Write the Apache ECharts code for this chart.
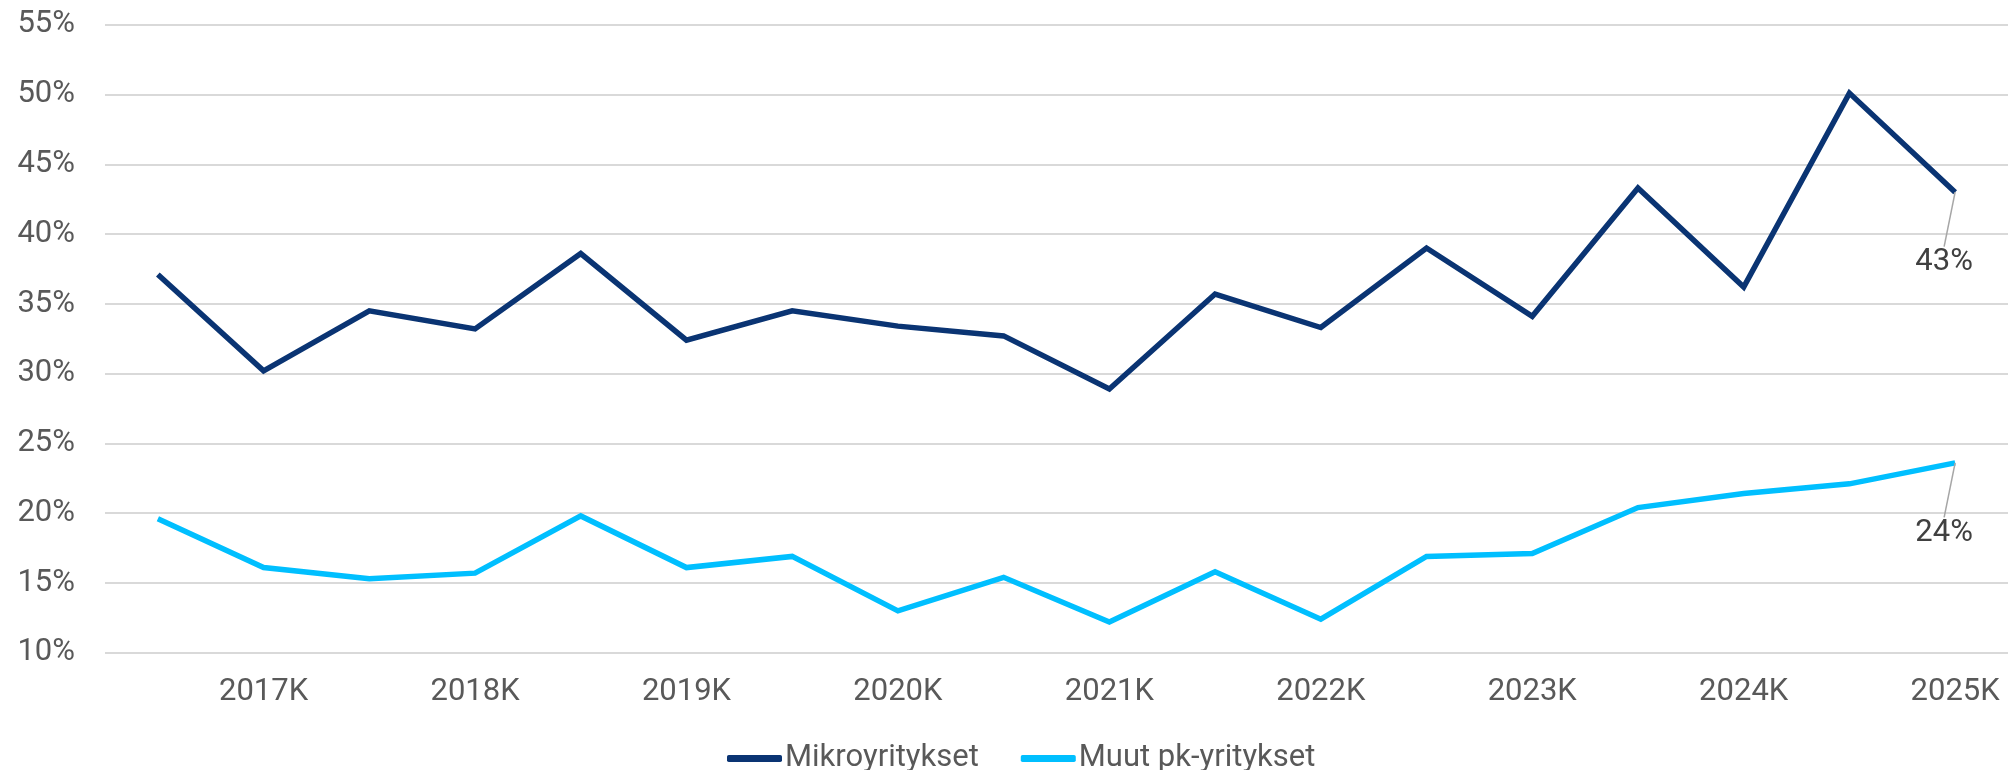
<!DOCTYPE html>
<html>
<head>
<meta charset="utf-8">
<script src="https://cdn.jsdelivr.net/npm/echarts@6/dist/echarts.min.js"></script>
<style>
html,body{margin:0;padding:0;background:#fff;}
#c{width:2014px;height:770px;}
</style>
</head>
<body>
<div id="c"></div>
<script>
const categories = ['2016S','2017K','2017S','2018K','2018S','2019K','2019S','2020K','2020S','2021K','2021S','2022K','2022S','2023K','2023S','2024K','2024S','2025K'];
const mikroyritykset = [37.1, 30.2, 34.5, 33.2, 38.6, 32.4, 34.5, 33.4, 32.7, 28.9, 35.7, 33.3, 39.0, 34.1, 43.3, 36.2, 50.1, 43.0];
const muutPk = [19.6, 16.1, 15.3, 15.7, 19.8, 16.1, 16.9, 13.0, 15.4, 12.2, 15.8, 12.4, 16.9, 17.1, 20.4, 21.4, 22.1, 23.6];
const seriesNames = ['Mikroyritykset', 'Muut pk-yritykset'];
const yMin = 10, yMax = 55, yStep = 5;

const FONT = 'Roboto';
const lastIdx = categories.length - 1;

function withEndLabel(arr) {
  return arr.map((v, i) => i === lastIdx ? {
    value: v,
    label: { show: true, position: 'inside', formatter: (p) => Math.round(p.value) + '%',
      fontFamily: FONT, fontSize: 31, color: '#404040' },
    labelLine: { show: true, lineStyle: { color: '#a6a6a6', width: 1.5 } }
  } : v);
}

const chart = echarts.init(document.getElementById('c'), null, {renderer: 'canvas'});
chart.setOption({
  animation: false,
  backgroundColor: '#ffffff',
  grid: { left: 105, right: 6, top: 24.7, bottom: 117.3, containLabel: false },
  legend: {
    left: 722, top: 738,
    icon: 'roundRect',
    itemWidth: 55, itemHeight: 7, itemGap: 42,
    textStyle: { fontFamily: FONT, fontSize: 31, color: '#595959', padding: [0,0,0,-2] },
    data: seriesNames
  },
  xAxis: {
    type: 'category',
    data: categories,
    boundaryGap: true,
    axisLine: { show: false },
    axisTick: { show: false },
    splitLine: { show: false },
    axisLabel: {
      interval: (i) => i % 2 === 1,
      margin: 24,
      fontFamily: FONT, fontSize: 31, color: '#595959'
    }
  },
  yAxis: {
    type: 'value',
    min: yMin, max: yMax, interval: yStep,
    axisLine: { show: false },
    axisTick: { show: false },
    splitLine: { show: true, lineStyle: { color: '#d9d9d9', width: 2 } },
    axisLabel: {
      margin: 30,
      formatter: (v) => v + '%',
      fontFamily: FONT, fontSize: 31, color: '#595959'
    }
  },
  series: [
    {
      name: seriesNames[0], type: 'line', data: withEndLabel(mikroyritykset),
      symbol: 'circle', symbolSize: 0.1, showSymbol: true,
      lineStyle: { color: '#0a3473', width: 5.5, join: 'miter' },
      itemStyle: { color: '#0a3473' },
      labelLayout: (p) => p.dataIndex === lastIdx ? { dx: -11, dy: 70 } : {},
      z: 3
    },
    {
      name: seriesNames[1], type: 'line', data: withEndLabel(muutPk),
      symbol: 'circle', symbolSize: 0.1, showSymbol: true,
      lineStyle: { color: '#00bfff', width: 5.5, join: 'miter' },
      itemStyle: { color: '#00bfff' },
      labelLayout: (p) => p.dataIndex === lastIdx ? { dx: -11, dy: 70 } : {},
      z: 2
    }
  ]
});
</script>
</body>
</html>
